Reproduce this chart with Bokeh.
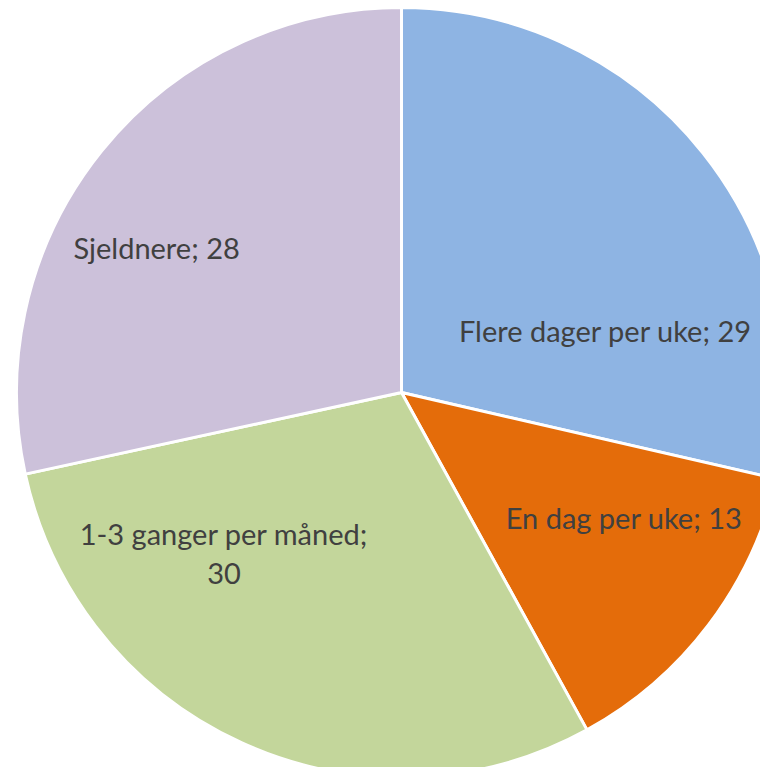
import math
from bokeh.plotting import figure
from bokeh.models import Range1d, ColumnDataSource
from bokeh.core.properties import value
from bokeh.embed import file_html
from bokeh.resources import INLINE

# Data (labels show rounded values)
categories = ["Flere dager per uke", "En dag per uke", "1-3 ganger per måned", "Sjeldnere"]
shares = [28.6, 13.4, 29.6, 28.4]
label_values = [29, 13, 30, 28]
colors = ["#8EB4E3", "#E46C0A", "#C3D69B", "#CCC1DA"]

# Layout / style
W, H = 760, 767
CX, CY, R = 401, H - 392, 385
FONT = "Lato"
FONT_SIZE = 29
LINE_GAP = 40
# label placement: (angle deg ccw from +x, fraction of radius)
label_polar = [(16.9, 0.554), (-29.3, 0.663), (-137.8, 0.622), (149.4, 0.739)]
label_lines = [
    [f"{categories[0]}; {label_values[0]}"],
    [f"{categories[1]}; {label_values[1]}"],
    [f"{categories[2]};", f"{label_values[2]}"],
    [f"{categories[3]}; {label_values[3]}"],
]

total = sum(shares)
starts, ends = [], []
cum = 0.0
for s in shares:
    a0 = math.pi / 2 - cum / total * 2 * math.pi
    cum += s
    a1 = math.pi / 2 - cum / total * 2 * math.pi
    starts.append(a0)
    ends.append(a1)

src = ColumnDataSource(dict(x=[CX] * 4, y=[CY] * 4, start=starts, end=ends, color=colors))

p = figure(width=W, height=H, x_range=Range1d(0, W), y_range=Range1d(0, H),
           output_backend="svg", toolbar_location=None, min_border=0)
p.axis.visible = False
p.grid.visible = False
p.outline_line_color = None
p.background_fill_color = "white"

p.wedge(x="x", y="y", radius=R, start_angle="start", end_angle="end", direction="clock",
        fill_color="color", line_color="white", line_width=3, source=src)

lx, ly, lt = [], [], []
for (ang, fr), lines in zip(label_polar, label_lines):
    x0 = CX + R * fr * math.cos(math.radians(ang))
    y0 = CY + R * fr * math.sin(math.radians(ang))
    n = len(lines)
    for i, t in enumerate(lines):
        lx.append(x0)
        ly.append(y0 + ((n - 1) / 2 - i) * LINE_GAP)
        lt.append(t)

p.text(x=lx, y=ly, text=lt, text_align="center", text_baseline="middle",
       text_font=value(FONT), text_font_size=f"{FONT_SIZE}px", text_color="#404040")

open("out.html", "w").write(file_html(p, INLINE))
